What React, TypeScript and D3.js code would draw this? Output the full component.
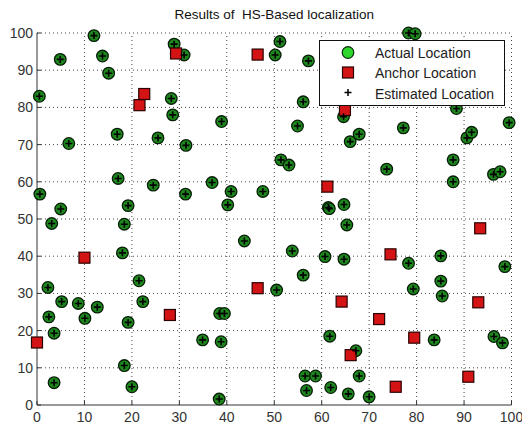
import { range, scaleLinear } from "d3";

const chartTitle = "Results of  HS-Based localization";
const xTicks = range(0, 101, 10);
const yTicks = range(0, 101, 10);

// actual node positions (green circles)
const actualLocations: [number, number][] = [
  [12.0, 99.3], [4.9, 92.9], [13.8, 93.8], [15.1, 89.2], [0.5, 83.0],
  [28.3, 82.4], [28.6, 78.0], [16.9, 72.8], [6.7, 70.3], [25.5, 71.8],
  [28.9, 97.0], [31.0, 94.1], [50.2, 94.1], [51.2, 97.7], [57.2, 92.5],
  [38.9, 76.2], [56.1, 81.5], [54.9, 75.0], [64.6, 77.5], [66.0, 70.8],
  [67.9, 72.8], [31.4, 69.8], [78.3, 100.0], [79.7, 99.8], [88.4, 79.7],
  [77.2, 74.5], [99.5, 75.9], [90.6, 71.8], [91.6, 73.3], [87.7, 65.9],
  [73.7, 63.4], [87.7, 60.0], [96.2, 62.0], [97.6, 62.7], [64.7, 53.9],
  [65.3, 48.4], [78.3, 38.1], [85.1, 40.1], [64.7, 39.2], [98.6, 37.2],
  [85.1, 33.3], [79.3, 31.2], [85.4, 29.3], [83.7, 17.5], [96.3, 18.4],
  [98.1, 16.7], [67.2, 14.6], [67.9, 7.8], [65.6, 3.0], [70.0, 2.2],
  [56.1, 34.9], [50.5, 30.9], [38.5, 24.6], [39.5, 24.6], [34.9, 17.5],
  [38.8, 17.0], [61.7, 18.5], [56.5, 7.8], [58.7, 7.8], [56.8, 3.9],
  [61.9, 4.7], [38.4, 1.6], [2.3, 31.6], [21.5, 33.4], [5.2, 27.8],
  [8.7, 27.3], [12.7, 26.3], [22.3, 27.8], [2.5, 23.7], [10.1, 23.3],
  [19.2, 22.2], [3.6, 19.3], [18.4, 10.6], [3.6, 6.0], [20.0, 4.9],
  [17.1, 60.9], [24.5, 59.1], [0.6, 56.7], [5.0, 52.7], [19.2, 53.6],
  [3.1, 48.8], [18.4, 48.6], [18.0, 40.9], [51.4, 65.9], [53.1, 64.5],
  [36.9, 59.8], [31.3, 56.7], [40.9, 57.4], [47.6, 57.4], [40.2, 53.8],
  [61.4, 53.1], [61.6, 52.8], [43.7, 44.1], [53.8, 41.4], [60.7, 39.9]
];

// anchor nodes (red squares)
const anchorLocations: [number, number][] = [
  [0.0, 16.8], [10.0, 39.6], [21.6, 80.6], [22.6, 83.6], [28.0, 24.2],
  [29.3, 94.5], [46.5, 94.2], [46.5, 31.4], [61.2, 58.7], [64.9, 79.3],
  [64.2, 27.8], [66.1, 13.4], [72.1, 23.1], [74.5, 40.5], [75.6, 4.9],
  [79.5, 18.1], [90.9, 7.6], [93.0, 27.6], [93.4, 47.5]
];

// the estimates land on the actual nodes in the picture
const estimatedLocations = actualLocations;

const legendLabels = ["Actual Location", "Anchor Location", "Estimated Location"];

const width = 522;
const height = 425;
const font = "'Liberation Sans', Arial, Helvetica, sans-serif";

export default function App() {
  const x = scaleLinear().domain([0, 100]).range([37, 511.5]);
  const y = scaleLinear().domain([0, 100]).range([405, 33]);
  const [x0, x1] = x.range();
  const [y0, y1] = y.range();

  return (
    <svg
      width={width}
      height={height}
      style={{ position: "absolute", left: 0, top: 0, background: "#fff" }}
      fontFamily={font}
    >
      <rect width={width} height={height} fill="#fff" />
      <text
        x={(x0 + x1) / 2}
        y={19}
        textAnchor="middle"
        fontSize={13.5}
        fill="#111"
        style={{ whiteSpace: "pre" }}
      >
        {chartTitle}
      </text>

      {/* dotted grid */}
      <g stroke="#444" strokeWidth={1} strokeDasharray="1,3">
        {xTicks.slice(1).map((t) => (
          <line key={`gx${t}`} x1={x(t)} x2={x(t)} y1={y0} y2={y1} />
        ))}
        {yTicks.slice(1).map((t) => (
          <line key={`gy${t}`} x1={x0} x2={x1} y1={y(t)} y2={y(t)} />
        ))}
      </g>

      {/* axes */}
      <g stroke="#333" strokeWidth={1}>
        <line x1={x0} x2={x1} y1={y0} y2={y0} />
        <line x1={x0} x2={x0} y1={y0} y2={y1} />
        {xTicks.map((t) => (
          <line key={`tx${t}`} x1={x(t)} x2={x(t)} y1={y0} y2={y0 - 4} />
        ))}
        {yTicks.map((t) => (
          <line key={`ty${t}`} x1={x0} x2={x0 + 4} y1={y(t)} y2={y(t)} />
        ))}
      </g>
      <g fontSize={14} fill="#333">
        {xTicks.map((t) => (
          <text key={`lx${t}`} x={x(t)} y={y0 + 17} textAnchor="middle">
            {t}
          </text>
        ))}
        {yTicks.map((t) => (
          <text key={`ly${t}`} x={x0 - 4} y={y(t) + 5} textAnchor="end">
            {t}
          </text>
        ))}
      </g>

      {/* markers */}
      <g fill="#1d861d" stroke="#061e06" strokeWidth={1.3}>
        {actualLocations.map(([a, b], i) => (
          <circle key={`a${i}`} cx={x(a)} cy={y(b)} r={5.8} />
        ))}
      </g>
      <g fill="#d41414" stroke="#2a0000" strokeWidth={1.2}>
        {anchorLocations.map(([a, b], i) => (
          <rect key={`n${i}`} x={x(a) - 5.5} y={y(b) - 5.5} width={11} height={11} />
        ))}
      </g>
      <g stroke="#000" strokeWidth={1.6}>
        {estimatedLocations.map(([a, b], i) => (
          <path
            key={`e${i}`}
            d={`M${x(a) - 3.5},${y(b)}H${x(a) + 3.5}M${x(a)},${y(b) - 3.5}V${y(b) + 3.5}`}
          />
        ))}
      </g>

      {/* legend */}
      <g>
        <rect x={319.5} y={40.5} width={185} height={65} fill="#fff" stroke="#111" strokeWidth={1} />
        <circle cx={348} cy={52.5} r={5.8} fill="#2ed62e" stroke="#0b2a0b" strokeWidth={1.2} />
        <rect x={342.5} y={67} width={11} height={11} fill="#d41414" stroke="#2a0000" strokeWidth={1.2} />
        <path d="M344.5,92.5H351.5M348,89V96" stroke="#000" strokeWidth={1.5} />
        {legendLabels.map((label, i) => (
          <text key={label} x={375} y={57.5 + i * 20.5} fontSize={14} fill="#222">
            {label}
          </text>
        ))}
      </g>
    </svg>
  );
}
